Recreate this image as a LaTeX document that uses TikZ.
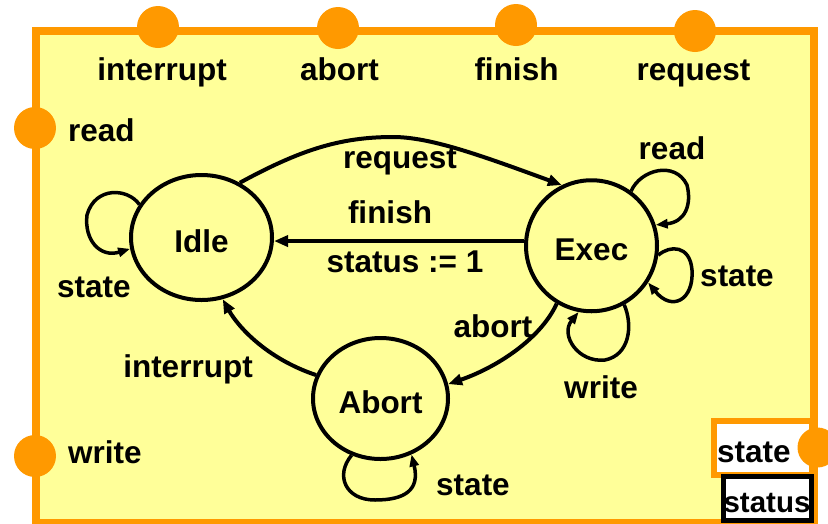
\documentclass[tikz,border=0pt]{standalone}
\usepackage{fontspec}
\setmainfont{Liberation Sans}
\usetikzlibrary{arrows.meta,shapes.geometric}
\definecolor{padfill}{HTML}{FFFF99}
\definecolor{portorange}{HTML}{FF9900}
\begin{document}
\begin{tikzpicture}[x=1pt,y=-1pt,
  every node/.style={font=\bfseries\fontsize{31.5}{36}\selectfont, inner sep=0pt},
  statenode/.style={ellipse, draw, line width=4pt, text height=30pt, text depth=0pt},
  port/.style={circle, fill=portorange, minimum size=42pt, inner sep=0pt},
  edge/.style={line width=4pt, -{Triangle[length=14pt,width=11pt]}},
  selfloop/.style={line width=3.5pt, -{Triangle[length=12pt,width=9pt]}},
  lbl/.style={anchor=base},
]
\useasboundingbox (0,0) rectangle (828,523);

% component frame
\draw[portorange, fill=padfill, line width=7.5pt] (36,31) rectangle (814,522.5);

% input ports and their names
\node[port] (pint)   at (158,27)  {};
\node[port] (pabo)   at (338,28)  {};
\node[port] (pfin)   at (516,25)  {};
\node[port] (preq)   at (695,31)  {};
\node[port] (pread)  at (35,128)  {};
\node[port] (pwrite) at (35,456)  {};

\node[lbl] (tint) at (162,80) {interrupt};
\node[lbl] (tabo) at (339.5,80) {abort};
\node[lbl] (tfin) at (516.5,80) {finish};
\node[lbl] (treq) at (693.5,80) {request};
\node[anchor=base west] (tread)  at (68,141) {read};
\node[anchor=base west] (twrite) at (68,463) {write};

% states
\node[statenode, minimum width=141pt, minimum height=125pt] (idle)  at (201.5,237.5) {Idle};
\node[statenode, minimum width=131pt, minimum height=131pt] (exec)  at (591.5,245.75) {Exec};
\node[statenode, minimum width=135pt, minimum height=121pt] (abort) at (380.5,398.5) {Abort};

% transitions
\draw[edge] (idle.55) .. controls (300,150) and (340,137) .. (393,137)
            .. controls (430,137) and (480,155) .. (exec.116);
\draw[edge] (exec.176) -- (idle.east |- exec.176);
\draw[edge] (abort.160) .. controls (265,358) and (237,325) .. (idle.-71);
\draw[edge] (exec.-121) .. controls (540,340) and (495,368) .. (abort.12);

\node[lbl] (lreq)  at (400,168) {request};
\node[lbl] (lfin)  at (390,223) {finish};
\node[lbl] (lstat) at (405,272) {status := 1};
\node[lbl] (lint)  at (188,377) {interrupt};
\node[lbl] (labo)  at (493,337) {abort};

% self loops
\draw[selfloop] (idle.152) .. controls (128,188) and (95,186) .. (87,215)
                .. controls (84,240) and (100,258) .. (idle.189);
\draw[selfloop] (exec.54) .. controls (640,170) and (675,160) .. (687,185)
                .. controls (692,205) and (685,222) .. (exec.18);
\draw[selfloop] (exec.-8) .. controls (670,245) and (690,245) .. (692,270)
                .. controls (694,300) and (672,312) .. (exec.-33);
\draw[selfloop] (exec.-61) .. controls (633,325) and (630,355) .. (605,360)
                .. controls (578,363) and (560,335) .. (exec.-101);
\draw[selfloop] (abort.-117) .. controls (335,475) and (345,500) .. (375,500)
                .. controls (405,500) and (420,490) .. (abort.-61);

\node[lbl] (lidst) at (94,297)  {state};
\node[lbl] (lrd)   at (672,159) {read};
\node[lbl] (lexst) at (737,286) {state};
\node[lbl] (lwr)   at (601,398) {write};
\node[lbl] (labst) at (473,495) {state};

% output port and local variable
\node[draw=portorange, line width=6pt, fill=white, minimum width=98.5pt,
      minimum height=54.5pt, text width=91.5pt, inner xsep=3.5pt, align=left,
      text height=30pt, text depth=0pt] (statebox) at (762.75,447.75) {state};
\node[draw=black, line width=5pt, fill=white, minimum width=88pt,
      minimum height=44pt] (statusbox) at (767.5,498.5) {};
\node[lbl, font=\bfseries\fontsize{29.5}{34}\selectfont] (tstatus) at (767,512) {status};
\node[port, minimum size=40pt] (pstate) at (817.5,447.5) {};
\end{tikzpicture}
\end{document}
